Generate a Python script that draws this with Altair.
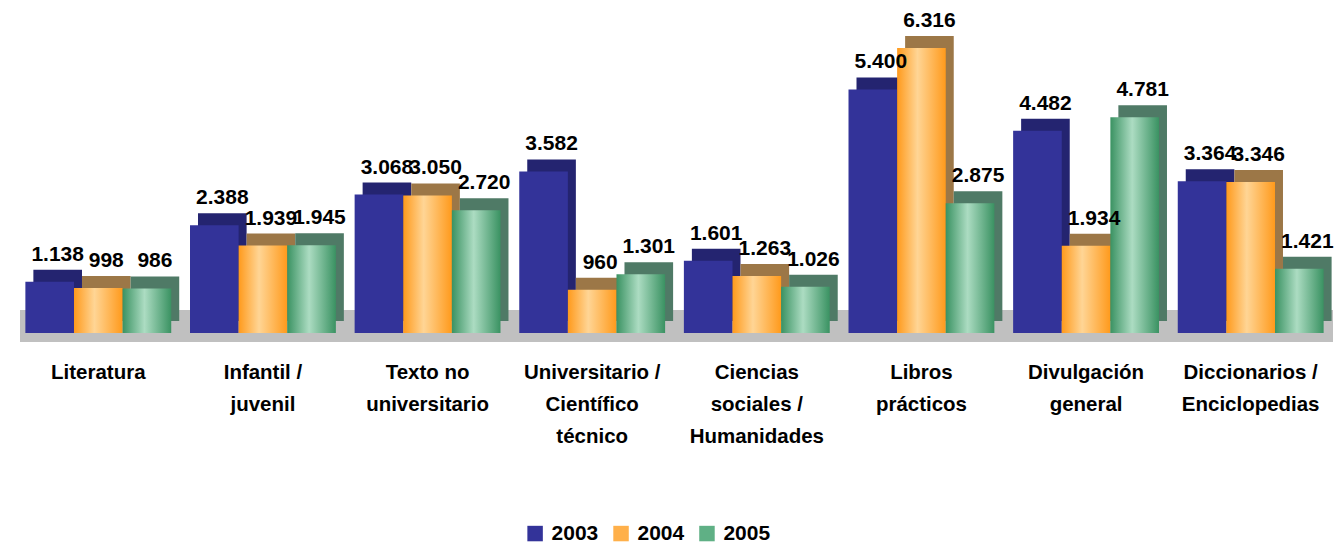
import altair as alt
import pandas as pd

categories = ["Literatura", "Infantil /|juvenil", "Texto no|universitario",
              "Universitario /|Científico|técnico", "Ciencias|sociales /|Humanidades",
              "Libros|prácticos", "Divulgación|general", "Diccionarios /|Enciclopedias"]
years = ["2003", "2004", "2005"]
v2003 = [1138, 2388, 3068, 3582, 1601, 5400, 4482, 3364]
v2004 = [998, 1939, 3050, 960, 1263, 6316, 1934, 3346]
v2005 = [986, 1945, 2720, 1301, 1026, 2875, 4781, 1421]

rows = []
for yr, vals in zip(years, [v2003, v2004, v2005]):
    for c, v in zip(categories, vals):
        rows.append({"cat": c, "year": yr, "value": v})
df = pd.DataFrame(rows)

F = "Liberation Sans"
W, H = 1318, 325
DX, DY = 8, 12

front_fill = {
    "2003": "#333399",
    "2004": alt.Gradient(gradient="linear", x1=0, x2=1, y1=0, y2=0, stops=[
        alt.GradientStop(color="#ff9a1c", offset=0),
        alt.GradientStop(color="#ffd595", offset=0.42),
        alt.GradientStop(color="#ff9a1c", offset=1)]),
    "2005": alt.Gradient(gradient="linear", x1=0, x2=1, y1=0, y2=0, stops=[
        alt.GradientStop(color="#3a9262", offset=0),
        alt.GradientStop(color="#acdcc2", offset=0.45),
        alt.GradientStop(color="#3a9262", offset=1)]),
}
back_fill = {"2003": "#242470", "2004": "#9c7747", "2005": "#4f7a66"}
legend_colors = ["#333399", "#ffb04a", "#5fb085"]

base = alt.Chart(df)


def xenc(shift=0, axis=None):
    return alt.X("cat:N", sort=categories, title=None, axis=axis,
                 scale=alt.Scale(domain=categories, range=[shift, W + shift],
                                 paddingInner=0.114, paddingOuter=0.057))


xoff = alt.XOffset("year:N", scale=alt.Scale(type="band", domain=years,
                                             paddingInner=0, paddingOuter=0))
yenc = alt.Y("value:Q", scale=alt.Scale(domain=[0, 7200], nice=False, zero=True), axis=None)

floor = alt.Chart(pd.DataFrame({"d": [0]})).mark_rect(color="#c0c0c0").encode(
    x=alt.value(4), x2=alt.value(W), y=alt.value(H - 23), y2=alt.value(H + 9))

backs = [
    base.transform_filter(alt.datum.year == yr).mark_bar(
        fill=back_fill[yr], yOffset=-DY, y2Offset=-DY
    ).encode(x=xenc(DX), xOffset=xoff, y=yenc)
    for yr in years
]

axis = alt.Axis(labelExpr="split(datum.value, '|')", labelAngle=0, ticks=False, domain=False,
                grid=False, labelFontSize=20.5, labelFontWeight="bold", labelFont=F,
                labelColor="black", labelLineHeight=32, labelPadding=30, labelLimit=0,
                labelBaseline="top")

fronts = []
for i, yr in enumerate(years):
    fronts.append(base.transform_filter(alt.datum.year == yr).mark_bar(
        fill=front_fill[yr]).encode(x=xenc(0, axis if i == 0 else None), xOffset=xoff, y=yenc))

labels = base.transform_calculate(
    lbl="replace(format(datum.value, ','), ',', '.')"
).mark_text(dx=8, dy=-27, fontSize=21, fontWeight="bold", font=F, color="black").encode(
    x=xenc(0), xOffset=xoff, y=yenc, text="lbl:N")

legend_layer = base.mark_bar(opacity=0).encode(
    x=xenc(0), xOffset=xoff, y=yenc,
    color=alt.Color("year:N", scale=alt.Scale(domain=years, range=legend_colors),
                    legend=alt.Legend(orient="none", legendX=509, legendY=515,
                                      direction="horizontal", title=None,
                                      symbolType="square", symbolSize=240,
                                      symbolOpacity=1, symbolStrokeWidth=0,
                                      labelFontSize=21, labelFontWeight="bold",
                                      labelFont=F, labelColor="black",
                                      columnPadding=12, labelOffset=6)))

chart = alt.layer(floor, *backs, *fronts, labels, legend_layer).resolve_scale(
    x="independent", xOffset="independent"
).properties(
    width=W, height=H, padding={"left": 8, "top": 0, "right": 0, "bottom": 0}
).configure_view(stroke=None)

chart.save("out.html", embed_options={"renderer": "svg", "actions": False})
